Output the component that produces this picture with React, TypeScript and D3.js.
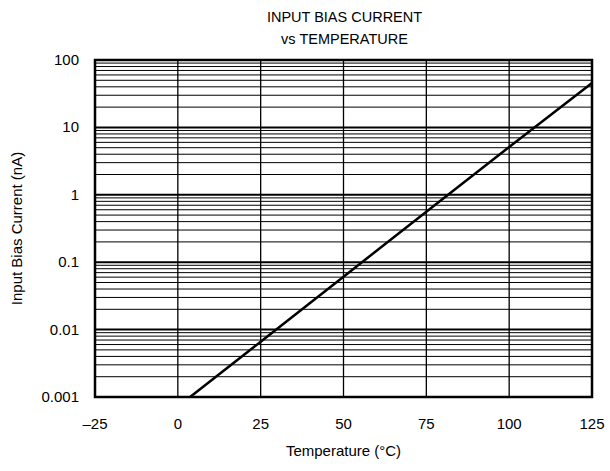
import React from "react";
import * as d3 from "d3";

const titleLines = ["INPUT BIAS CURRENT", "vs TEMPERATURE"];
const xTicks = [-25, 0, 25, 50, 75, 100, 125];
const yDecades = [0.001, 0.01, 0.1, 1, 10, 100];
const yTickLabels = ["0.001", "0.01", "0.1", "1", "10", "100"];
const tempC = [3.7, 25, 50, 75, 100, 125];
const biasNA = [0.001, 0.0066, 0.061, 0.56, 5.1, 45.5];

const W = 610, H = 471;
const M = { left: 95, right: 18, top: 60, bottom: 74 };

export default function App() {
  const x = d3.scaleLinear().domain([-25, 125]).range([M.left, W - M.right]);
  const y = d3.scaleLog().domain([0.001, 100]).range([H - M.bottom, M.top]);
  const minors: number[] = [];
  for (let i = 0; i < yDecades.length - 1; i++) {
    for (let k = 2; k <= 9; k++) minors.push(yDecades[i] * k);
  }
  const line = d3.line<number>().x((_, i) => x(tempC[i])).y((d) => y(d));
  const font = "'Liberation Sans', Arial, sans-serif";
  const x0 = x(-25), x1 = x(125), yT = y(100), yB = y(0.001);
  return (
    <svg width={W} height={H} style={{ position: "absolute", left: 0, top: 0 }} fontFamily={font}>
      <rect width={W} height={H} fill="#fff" />
      {titleLines.map((t, i) => (
        <text key={t} x={(x0 + x1) / 2 + 1} y={22 + i * 22} textAnchor="middle" fontSize={14.5}>{t}</text>
      ))}
      {minors.map((v) => (
        <line key={v} x1={x0} x2={x1} y1={y(v)} y2={y(v)} stroke="#000" strokeWidth={1} />
      ))}
      {xTicks.map((t) => (
        <line key={t} x1={x(t)} x2={x(t)} y1={yT} y2={yB} stroke="#000" strokeWidth={1.3} />
      ))}
      {yDecades.map((v) => (
        <line key={v} x1={x0} x2={x1} y1={y(v)} y2={y(v)} stroke="#000" strokeWidth={2} />
      ))}
      <rect x={x0} y={yT} width={x1 - x0} height={yB - yT} fill="none" stroke="#000" strokeWidth={2.5} />
      <path d={line(biasNA) || ""} fill="none" stroke="#000" strokeWidth={2.5} />
      {yDecades.map((v, i) => (
        <text key={v} x={x0 - 16} y={y(v) + 5} textAnchor="end" fontSize={15}>{yTickLabels[i]}</text>
      ))}
      {xTicks.map((t) => (
        <text key={t} x={x(t)} y={yB + 32} textAnchor="middle" fontSize={15}>{t < 0 ? "\u2013" + Math.abs(t) : t}</text>
      ))}
      <text x={(x0 + x1) / 2} y={456} textAnchor="middle" fontSize={15}>Temperature (°C)</text>
      <text transform={`translate(22,${(yT + yB) / 2}) rotate(-90)`} textAnchor="middle" fontSize={15}>Input Bias Current (nA)</text>
    </svg>
  );
}
